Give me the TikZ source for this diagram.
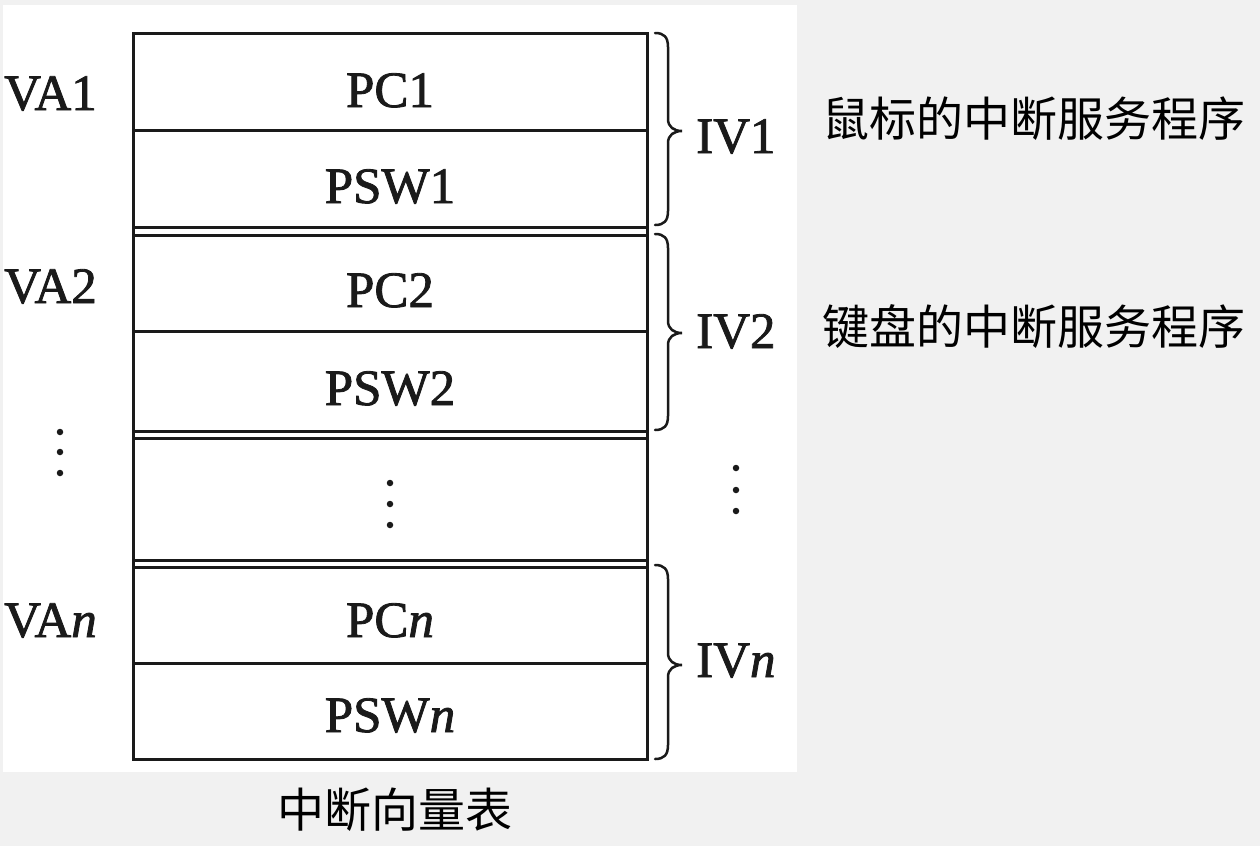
\documentclass[tikz,border=0pt]{standalone}
\usepackage{fontspec}
\setmainfont{Liberation Serif}
\newfontfamily\scanfont[FakeBold=1.6]{Liberation Serif}
\newfontfamily\cjk{Noto Sans CJK SC}
\definecolor{bgc}{HTML}{F1F1F1}
\definecolor{ink}{HTML}{1A1A1A}
\begin{document}
\begin{tikzpicture}[x=1pt,y=-1pt,
  rule/.style={line width=3pt, draw=ink},
  bracestyle/.style={line width=2.5pt, draw=ink, line cap=round},
  lab/.style={font=\scanfont\fontsize{51}{51}\selectfont, text=ink, anchor=base, inner sep=0pt},
  side/.style={font=\scanfont\fontsize{51}{51}\selectfont, text=ink, anchor=base west, inner sep=0pt},
  zh/.style={font=\cjk\fontsize{47}{47}\selectfont, text=black, anchor=base west, inner sep=0pt},
  dot/.style={circle, fill=ink, inner sep=0pt, minimum size=6.5pt}]
\fill[bgc] (0,0) rectangle (1260,846);
\fill[white] (3,5) rectangle (797,772);
\useasboundingbox (0,0) rectangle (1260,846);

% table
\draw[rule] (133,33) rectangle (647,759);
\foreach \y in {130,227,235,331,431,438,560,567,663}
  \draw[rule] (133,\y) -- (647,\y);

% cell texts
\node[lab] (pc1)  at (390,107) {PC1};
\node[lab] (psw1) at (390,203) {PSW1};
\node[lab] (pc2)  at (390,307) {PC2};
\node[lab] (psw2) at (390,405) {PSW2};
\node[lab] (pcn)  at (390,637) {PC\textit{n}};
\node[lab] (pswn) at (390,732) {PSW\textit{n}};

% left labels
\node[side] (va1) at (4,110) {VA1};
\node[side] (va2) at (4,303) {VA2};
\node[side] (van) at (4,637) {VA\textit{n}};

% right labels
\node[side] (iv1) at (696,153) {IV1};
\node[side] (iv2) at (696,348) {IV2};
\node[side] (ivn) at (696,677) {IV\textit{n}};

% dots
\foreach \y [count=\i] in {432,452,473} \node[dot] (ld\i) at (60,\y) {};
\foreach \y [count=\i] in {483,504,525} \node[dot] (md\i) at (390,\y) {};
\foreach \y [count=\i] in {468,490,511} \node[dot] (rd\i) at (736,\y) {};

% braces
\foreach \t/\m/\b in {33/131/225, 234/333/430, 565/665/759}{
  \draw[bracestyle] (655,\t) .. controls (664,\t) and (668,\t+4) .. (668,\t+14)
    -- (668,\m-12) .. controls (668,\m-4) and (674,\m) .. (682,\m)
    .. controls (674,\m) and (668,\m+4) .. (668,\m+12)
    -- (668,\b-14) .. controls (668,\b-4) and (664,\b) .. (655,\b);
}

% chinese texts
\node[zh] (mouse) at (822,136) {鼠标的中断服务程序};
\node[zh] (kbd)   at (822,344) {键盘的中断服务程序};
\node[zh, anchor=base] (title) at (395,827) {中断向量表};
\end{tikzpicture}
\end{document}
